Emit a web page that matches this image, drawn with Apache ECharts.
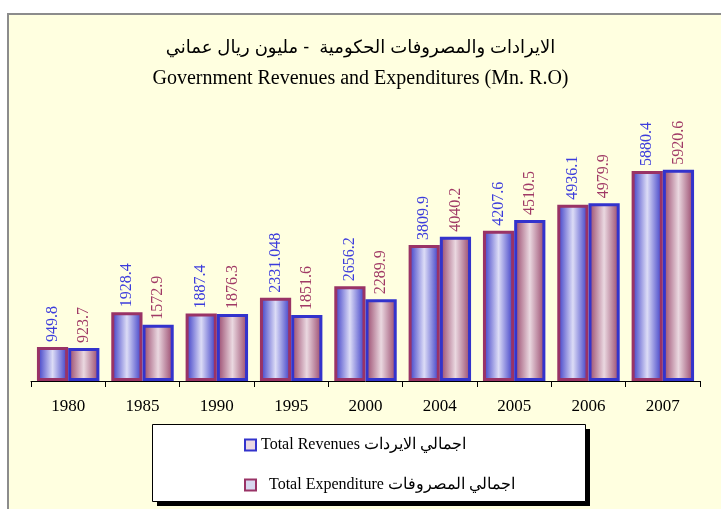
<!DOCTYPE html>
<html>
<head>
<meta charset="utf-8">
<style>
  html,body{margin:0;padding:0;background:#fff;}
  #main{width:721px;height:509px;}
</style>
<script src="https://cdn.jsdelivr.net/npm/echarts@6/dist/echarts.min.js"></script>
</head>
<body>
<div id="main"></div>
<script>
var years = ['1980','1985','1990','1995','2000','2004','2005','2006','2007'];
var revenues = [949.8, 1928.4, 1887.4, 2331.048, 2656.2, 3809.9, 4207.6, 4936.1, 5880.4];
var expenditures = [923.7, 1572.9, 1876.3, 1851.6, 2289.9, 4040.2, 4510.5, 4979.9, 5920.6];
var revName = 'Total Revenues اجمالي الايردات';
var expName = '  Total Expenditure اجمالي المصروفات';

// gradient de remplissage, bords foncés et centre clair
function hGrad(edge, mid){
    return {type:'linear', x:0, y:0, x2:1, y2:0,
        colorStops:[{offset:0,color:edge},{offset:0.5,color:mid},{offset:1,color:edge}]};
}

var chart = echarts.init(document.getElementById('main'));
chart.setOption({
    animation:false,
    backgroundColor:'#fff',
    graphic:[
        {type:'rect', left:7, top:13, shape:{width:720, height:500},
         style:{fill:'#ffffe0', stroke:'#8c8c8c', lineWidth:2}, z:-10},
        {type:'rect', left:157, top:429, shape:{width:433, height:77},
         style:{fill:'#000'}, z:-5},
        {type:'rect', left:152, top:424, shape:{width:433, height:77},
         style:{fill:'#fff', stroke:'#000', lineWidth:1}, z:-4},
        {type:'text', left:'center', top:39,
         style:{text:'الايرادات والمصروفات الحكومية  - مليون ريال عماني', fill:'#000',
                font:'18px "Liberation Sans","DejaVu Sans",sans-serif'}},
        {type:'text', left:'center', top:69,
         style:{text:'Government Revenues and Expenditures (Mn. R.O)', fill:'#000',
                font:'20px "Liberation Serif",serif'}}
    ],
    legend:{
        orient:'vertical', left:239, top:432, itemGap:24,
        itemWidth:11, itemHeight:11, icon:'rect',
        textStyle:{color:'#000', fontSize:16, fontFamily:'"Liberation Serif",serif'},
        data:[
            {name:revName, itemStyle:{color:'#ead8e2', borderColor:'#3333cc', borderWidth:2}},
            {name:expName, itemStyle:{color:'#d8d8f0', borderColor:'#993366', borderWidth:2}}
        ]
    },
    grid:{left:31, right:21, top:95.4, bottom:128},
    xAxis:{
        type:'category', data:years,
        axisLine:{lineStyle:{color:'#000', width:1}},
        axisTick:{show:true, length:6, lineStyle:{color:'#000'}},
        axisLabel:{color:'#000', fontSize:17, fontFamily:'"Liberation Serif",serif', margin:17}
    },
    yAxis:{type:'value', min:0, max:8000, show:false, splitLine:{show:false}},
    series:[
        {
            name:revName, type:'bar', data:revenues,
            barGap:'0%', barCategoryGap:'16%',
            itemStyle:{color:hGrad('#3434c4','#dcdcf6'), borderColor:'#993366', borderWidth:3},
            label:{show:true, position:'top', rotate:90, distance:5, align:'left', verticalAlign:'middle',
                   color:'#3c3cdc', fontSize:16, fontFamily:'"Liberation Serif",serif'}
        },
        {
            name:expName, type:'bar', data:expenditures,
            barGap:'0%', barCategoryGap:'16%',
            itemStyle:{color:hGrad('#944066','#ead8e0'), borderColor:'#3333cc', borderWidth:3},
            label:{show:true, position:'top', rotate:90, distance:5, align:'left', verticalAlign:'middle',
                   color:'#a03a66', fontSize:16, fontFamily:'"Liberation Serif",serif'}
        }
    ]
});
</script>
</body>
</html>
